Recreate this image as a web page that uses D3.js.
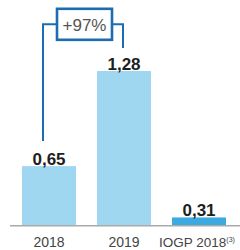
<!DOCTYPE html>
<html>
<head>
<meta charset="utf-8">
<script src="https://cdn.jsdelivr.net/npm/d3@7"></script>
<style>
  body { margin: 0; background: #fff; }
  text { font-family: "Liberation Sans", Arial, sans-serif; }
</style>
</head>
<body>
<svg id="chart"></svg>
<script>
// chart data
const categories = ['2018', '2019', 'IOGP 2018'];
const values = [0.65, 1.28, 0.31];
const valueLabels = ['0,65', '1,28', '0,31'];
const changeLabel = '+97%';

const width = 240, height = 250;
const barColors = ['#9fd7f1', '#9fd7f1', '#3aaae0'];
const bracketColor = '#1b6cb0';

const svg = d3.select('#chart')
    .attr('width', width)
    .attr('height', height);

const x = d3.scaleBand()
    .domain(categories)
    .range([10, 238])
    .paddingInner(0.28)
    .paddingOuter(0.16);

// bars are not drawn from zero in the original
const y = d3.scaleLinear()
    .domain([0.26, 1.28])
    .range([225, 71]);

svg.selectAll('rect.bar')
  .data(values)
  .enter().append('rect')
    .attr('class', 'bar')
    .attr('x', (d, i) => x(categories[i]))
    .attr('y', d => y(d))
    .attr('width', x.bandwidth())
    .attr('height', d => y.range()[0] - y(d))
    .attr('fill', (d, i) => barColors[i]);

// baseline
svg.append('line')
    .attr('x1', 10).attr('x2', 240)
    .attr('y1', 225.8).attr('y2', 225.8)
    .attr('stroke', '#aaaaaa')
    .attr('stroke-width', 1.6);

svg.selectAll('text.value')
  .data(values)
  .enter().append('text')
    .attr('class', 'value')
    .attr('x', (d, i) => x(categories[i]) + x.bandwidth() / 2)
    .attr('y', d => y(d) - 1)
    .attr('text-anchor', 'middle')
    .attr('font-size', 17)
    .attr('font-weight', 'bold')
    .attr('fill', '#1e1e1e')
    .text((d, i) => valueLabels[i]);

// category labels
const cat = svg.selectAll('text.cat')
  .data(categories)
  .enter().append('text')
    .attr('class', 'cat')
    .attr('x', d => x(d) + x.bandwidth() / 2)
    .attr('y', 247)
    .attr('text-anchor', 'middle')
    .attr('font-size', 14)
    .attr('fill', '#444')
    .text(d => d);

cat.filter(d => d === 'IOGP 2018')
    .attr('x', 159)
    .attr('text-anchor', 'start')
    .attr('font-size', 13.5)
  .append('tspan')
    .attr('font-size', 7)
    .attr('dy', -5)
    .text('(3)');

// bracket showing the change 2018 -> 2019
const bx1 = x(categories[0]) + x.bandwidth() / 2 - 6;
const bx2 = x(categories[1]) + x.bandwidth() / 2 - 1;
const bTop = 24.3;
const boxW = 55, boxH = 31;
const boxX = (bx1 + bx2) / 2 + 1.5 - boxW / 2;

svg.append('path')
    .attr('d', `M${bx1},${y(values[0]) - 25} V${bTop} H${boxX} M${boxX + boxW},${bTop} H${bx2} V${y(values[1]) - 23}`)
    .attr('fill', 'none')
    .attr('stroke', bracketColor)
    .attr('stroke-width', 2);

svg.append('rect')
    .attr('x', boxX)
    .attr('y', bTop - boxH / 2)
    .attr('width', boxW)
    .attr('height', boxH)
    .attr('fill', '#fff')
    .attr('stroke', bracketColor)
    .attr('stroke-width', 2.6);

svg.append('text')
    .attr('x', boxX + boxW / 2)
    .attr('y', bTop + 6.5)
    .attr('text-anchor', 'middle')
    .attr('font-size', 17)
    .attr('fill', '#555')
    .text(changeLabel);
</script>
</body>
</html>
